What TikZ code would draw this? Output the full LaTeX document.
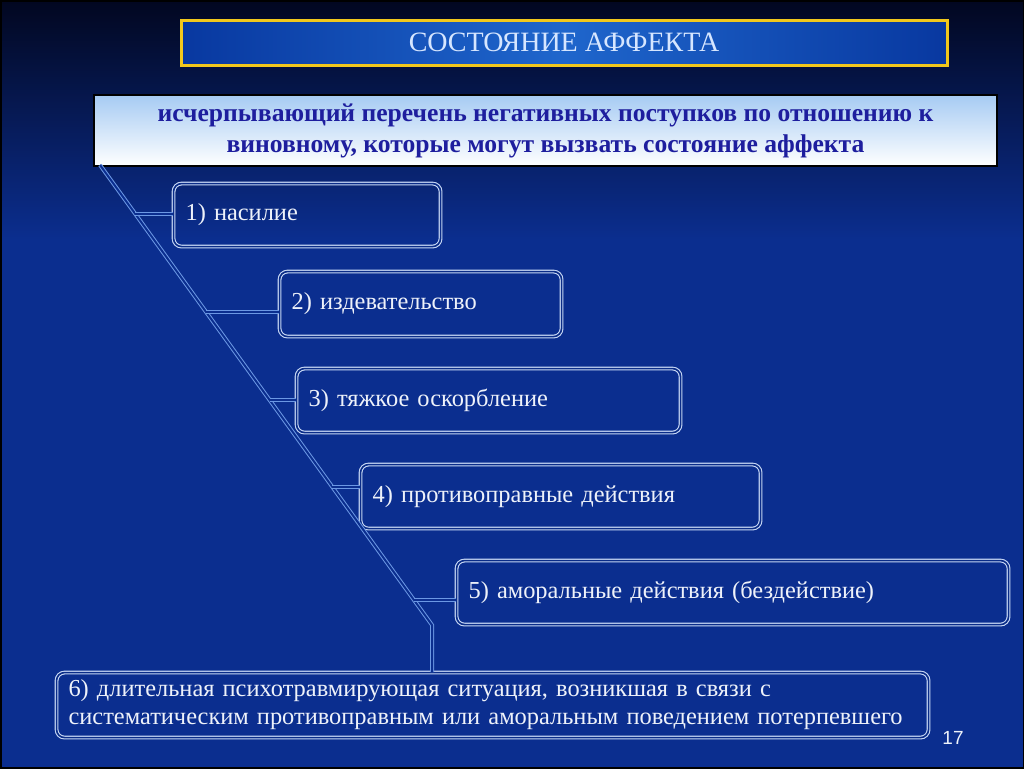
\documentclass[tikz,border=0pt]{standalone}
\usepackage{fontspec}
\setmainfont{Liberation Serif}
\newfontfamily\pagenumfont{Liberation Sans}
\usetikzlibrary{positioning}
\definecolor{bgtop}{HTML}{020720}
\definecolor{bgmain}{HTML}{0B2E8F}
\definecolor{boxline}{HTML}{C8D8F5}
\definecolor{boxfill}{HTML}{0A2C88}
\definecolor{linkblue}{HTML}{6C98E4}
\definecolor{itemtext}{HTML}{EEF2FA}
\definecolor{hdtop}{HTML}{A6CBF3}
\definecolor{hdtext}{HTML}{1E1E9E}
\definecolor{titleyellow}{HTML}{F2C81C}
\definecolor{titleedge}{HTML}{0838A0}
\definecolor{titlemid}{HTML}{1F66CC}
\definecolor{titletext}{HTML}{D6E6FF}
\begin{document}
\begin{tikzpicture}[x=0.5pt,y=-0.5pt]
        \tikzset{
          itembox/.style={draw=boxline,double=boxfill,line width=0.55pt,double distance=0.8pt,
            rounded corners=4pt,anchor=north west,inner xsep=6pt,align=left,
            text=itemtext,font=\fontsize{12.2}{14}\selectfont},
          link/.style={draw=linkblue,double=bgmain,line width=0.5pt,double distance=1pt},
        }
        \useasboundingbox (0,0) rectangle (1024,768);
        %BACKGROUND
        \fill[bgmain] (0,0) rectangle (1024,768);
        \shade[top color=bgtop,bottom color=bgmain] (0,0) rectangle (1024,240);
        \draw[black,line width=1.5pt] (0,0) rectangle (1024,768);

        %TITLE
        \node[draw=titleyellow,line width=1.5pt,left color=titleedge,right color=titleedge,
          middle color=titlemid,minimum width=383pt,minimum height=22.5pt,
          text=titletext,font=\fontsize{14}{16}\selectfont] (title) at (564,42.5) {СОСТОЯНИЕ АФФЕКТА};
        \node[draw=black,line width=1pt,top color=hdtop,bottom color=white,minimum width=451.5pt,
          minimum height=35.5pt,anchor=north west,align=center,text=hdtext,
          font=\bfseries\fontsize{12.8}{15.5}\selectfont] (list) at (93,94)
          {исчерпывающий перечень негативных поступков по отношению к\\виновному, которые могут вызвать состояние аффекта};

        %BOXES
        \foreach \n/\x/\y/\w/\tw/\h/\t in {
            1/173/183/133.5/121.5/31.5/{1) насилие},
            2/279/271/141/129/32.5/{2) издевательство},
            3/296/368/192/180/32/{3) тяжкое оскорбление},
            4/360/464/200/188/32/{4) противоправные действия},
            5/456/560/276/264/32/{5) аморальные действия (бездействие)},
            6/56/672/436/424/32.5/{6) длительная психотравмирующая ситуация, возникшая в связи с\\систематическим противоправным или аморальным поведением потерпевшего}}{
            \node[itembox,minimum width=\w pt,minimum height=\h pt,text width=\tw pt] (b\n) at (\x,\y) {\t};
        }

        %LINE
        \coordinate (top) at (100,165);
        \coordinate (bend) at (432,625);
        \draw[link] (top) -- (bend) -- (bend |- b6.north);
        \foreach \n/\p in {1/0.1065,2/0.3196,3/0.5109,4/0.7,5/0.9457}{
            \path (top) -- (bend) coordinate[pos=\p] (j\n);
            \draw[link] (j\n) -- (j\n -| b\n.west);
        }

        \node[text=itemtext,font=\pagenumfont\fontsize{9.5}{11}\selectfont] (pagenum) at (953,738) {17};
\end{tikzpicture}
\end{document}
